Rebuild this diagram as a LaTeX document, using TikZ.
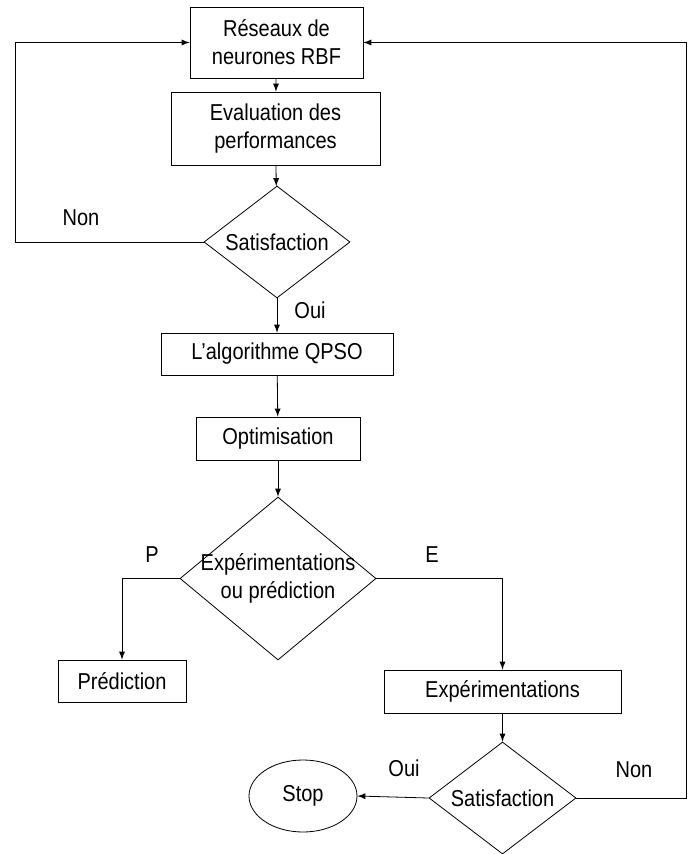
\documentclass[tikz,border=0pt]{standalone}
\usepackage{fontspec}
\setmainfont{Liberation Sans}[FakeStretch=0.87]
\usetikzlibrary{shapes.geometric}
\tikzset{
  bloc/.style={draw,line width=0.4pt,inner sep=0pt,align=center},
  decision/.style={draw,diamond,line width=0.4pt,inner sep=0pt,aspect=1.3},
  fleche/.style={line width=0.4pt,-latex},
}
\begin{document}
\begin{tikzpicture}[x=0.5pt,y=-0.5pt,font=\fontsize{11.5}{14}\selectfont]
                            \useasboundingbox (0,0) rectangle (688,854);
                            \node[bloc,minimum width=86.5pt,minimum height=35.5pt] (rbf) at (276.5,42.5) {Réseaux de\\neurones RBF};
                            \node[bloc,minimum width=104.5pt,minimum height=36.5pt] (eval) at (275.5,128.5) {Evaluation des\\performances};
                            \node[decision,minimum width=73pt,minimum height=56pt,label={center:Satisfaction}] (sat1) at (277,242) {};
                            \node[bloc,minimum width=116pt,minimum height=21pt] (qpso) at (277,354) {L’algorithme QPSO};
                            \node[bloc,minimum width=82pt,minimum height=21.5pt] (optim) at (278,438.5) {Optimisation};
                            \node[decision,minimum width=98pt,minimum height=81.5pt,label={[align=center]center:Expérimentations\\ou prédiction}] (choix) at (278,578.5) {};
                            \node[bloc,minimum width=64pt,minimum height=21pt] (predi) at (122,681) {Prédiction};
                            \node[bloc,minimum width=118.5pt,minimum height=21.5pt] (exper) at (502.5,691.5) {Expérimentations};
                            \node[decision,minimum width=73.5pt,minimum height=56pt,label={center:Satisfaction}] (sat2) at (502.5,798) {};
                            \node[draw,ellipse,line width=0.4pt,inner sep=0pt,minimum width=54pt,minimum height=36pt] (stop) at (303,796) {Stop};
                            \coordinate (gauche) at (15,42.5);
                            \coordinate (droite) at (686,42.5);
                            \draw[fleche] (rbf) -- (eval);
                            \draw[fleche] (eval) -- (sat1);
                            \draw[fleche] (sat1.west) -| (gauche) -- (rbf.west);
                            \draw[fleche] (sat1) -- (qpso);
                            \draw[fleche] (qpso) -- (optim);
                            \draw[fleche] (optim) -- (choix);
                            \draw[fleche] (choix.west) -| (predi.north);
                            \draw[fleche] (choix.east) -| (exper.north);
                            \draw[fleche] (exper) -- (sat2);
                            \draw[fleche] (sat2.west) -- (stop.east);
                            \draw[fleche] (sat2.east) -| (droite) -- (rbf.east);
                            \node (non1) at (81,218) {Non};
                            \node (oui1) at (310,310) {Oui};
                            \node (p) at (152,555) {P};
                            \node (e) at (432,555) {E};
                            \node (oui2) at (404,768) {Oui};
                            \node (non2) at (634,770) {Non};
\end{tikzpicture}
\end{document}
